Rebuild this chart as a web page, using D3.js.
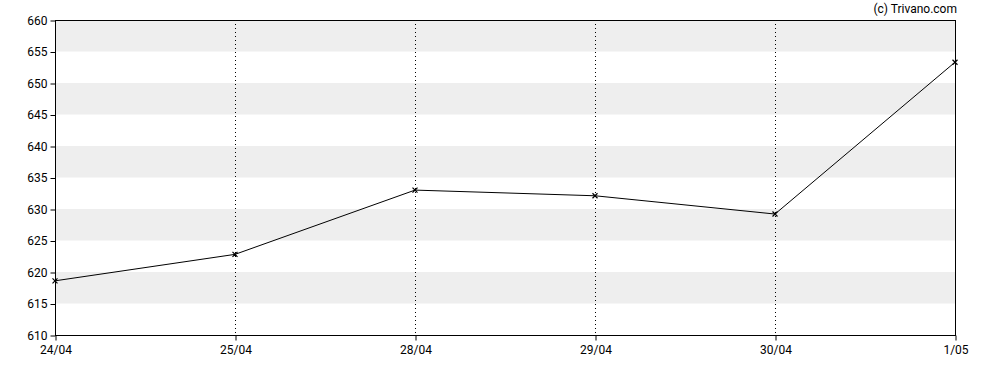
<!DOCTYPE html>
<html>
<head>
<meta charset="utf-8">
<script src="https://cdn.jsdelivr.net/npm/d3@7"></script>
<style>
  body { margin: 0; background: #fff; }
  text { font-family: Roboto, "Liberation Sans", sans-serif; }
</style>
</head>
<body>
<div id="chart"></div>
<script>
const dates = ["24/04", "25/04", "28/04", "29/04", "30/04", "1/05"];
const prices = [618.6, 622.8, 633.0, 632.1, 629.2, 653.3];
const yTicks = [610, 615, 620, 625, 630, 635, 640, 645, 650, 655, 660];
const bands = [[615, 620], [625, 630], [635, 640], [645, 650], [655, 660]];

const width = 988, height = 370;
const margin = {top: 20, right: 33, bottom: 35, left: 55};

const svg = d3.select("#chart").append("svg")
    .attr("width", width)
    .attr("height", height);

const x = d3.scalePoint()
    .domain(dates)
    .range([margin.left, width - margin.right]);

const y = d3.scaleLinear()
    .domain([610, 660])
    .range([height - margin.bottom, margin.top]);

// grey bands
svg.append("g").selectAll("rect")
    .data(bands)
    .join("rect")
    .attr("x", margin.left)
    .attr("width", width - margin.right - margin.left)
    .attr("y", d => y(d[1]))
    .attr("height", d => y(d[0]) - y(d[1]))
    .attr("fill", "#eeeeee");

// dotted verticals
svg.append("g").selectAll("line")
    .data(dates.slice(1, -1))
    .join("line")
    .attr("x1", d => Math.round(x(d)) + 0.5)
    .attr("x2", d => Math.round(x(d)) + 0.5)
    .attr("y1", margin.top)
    .attr("y2", height - margin.bottom)
    .attr("stroke", "#000")
    .attr("stroke-dasharray", "1,3");

// frame
svg.append("rect")
    .attr("x", margin.left + 0.5)
    .attr("y", margin.top + 0.5)
    .attr("width", width - margin.right - margin.left)
    .attr("height", height - margin.bottom - margin.top)
    .attr("fill", "none")
    .attr("stroke", "#000");

function xAxis(g) {
    g.attr("transform", `translate(0.5, ${height - margin.bottom + 0.5})`)
     .call(d3.axisBottom(x).tickSize(5).tickSizeOuter(0))
     .call(g => g.select(".domain").remove())
     .attr("font-size", "12px")
     .selectAll("text").attr("fill", "#000").attr("dy", "0.85em");
}

function yAxis(g) {
    g.attr("transform", `translate(${margin.left + 0.5}, 0.5)`)
     .call(d3.axisLeft(y).tickValues(yTicks).tickSize(5).tickSizeOuter(0))
     .call(g => g.select(".domain").remove())
     .attr("font-size", "12px")
     .selectAll("text").attr("fill", "#000");
}

svg.append("g").call(xAxis);
svg.append("g").call(yAxis);

// price line
const line = d3.line()
    .x((d, i) => x(dates[i]))
    .y(d => y(d));

svg.append("path")
    .datum(prices)
    .attr("fill", "none")
    .attr("stroke", "#000")
    .attr("stroke-width", 1)
    .attr("d", line);

// x markers
svg.append("g").selectAll("path")
    .data(prices)
    .join("path")
    .attr("transform", (d, i) => `translate(${x(dates[i])},${y(d)})`)
    .attr("d", "M-2.5,-2.5L2.5,2.5M-2.5,2.5L2.5,-2.5")
    .attr("stroke", "#000")
    .attr("stroke-width", 1.2);

svg.append("text")
    .attr("x", 957)
    .attr("y", 13)
    .attr("text-anchor", "end")
    .attr("font-size", "12px")
    .text("(c) Trivano.com");
</script>
</body>
</html>
